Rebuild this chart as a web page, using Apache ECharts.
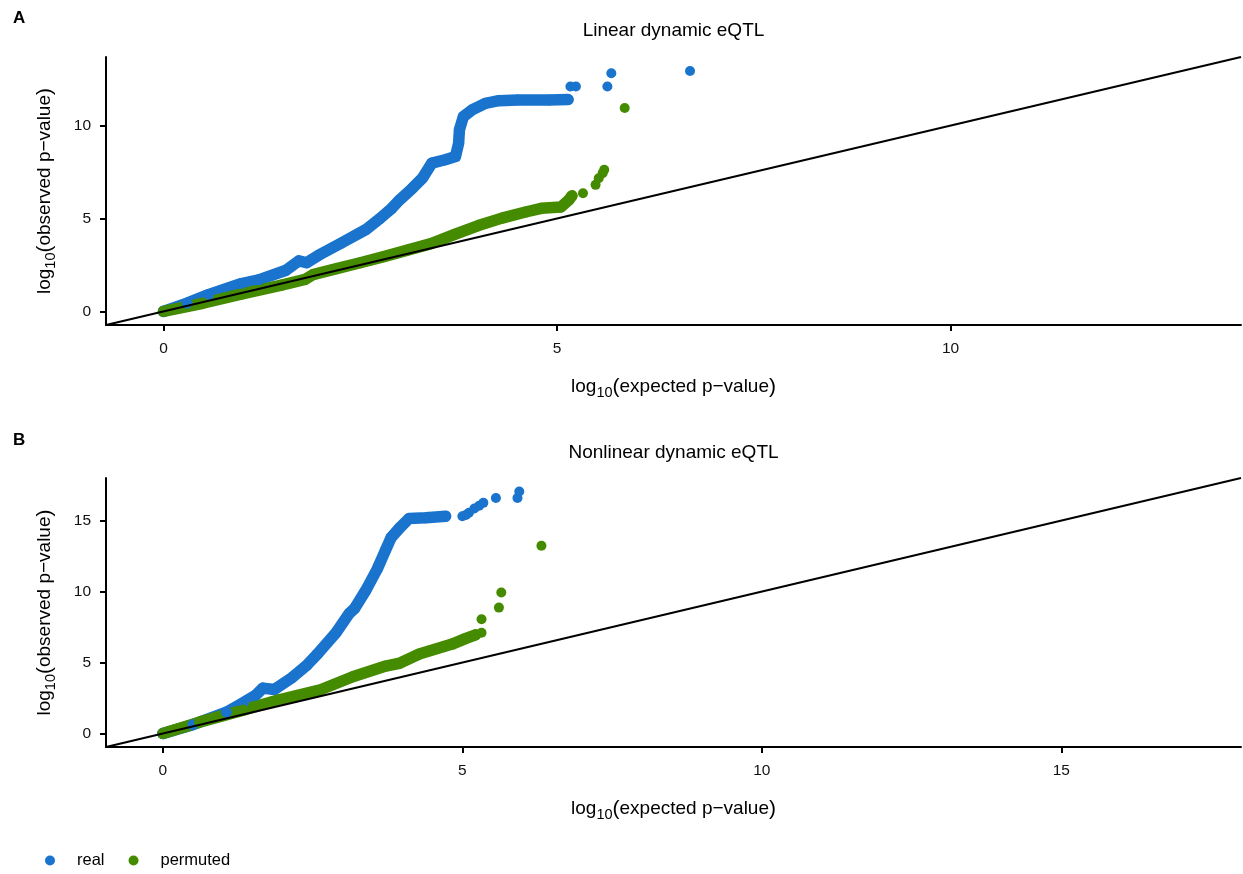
<!DOCTYPE html>
<html>
<head>
<meta charset="utf-8">
<script src="https://cdn.jsdelivr.net/npm/echarts@6/dist/echarts.min.js"></script>
<style>
  html, body { margin: 0; padding: 0; background: #fff; }
  #chart { width: 1243px; height: 874px; }
</style>
</head>
<body>
<div id="chart"></div>
<script>
// ---------------- data ----------------
// Panel A: Linear dynamic eQTL  ([expected, observed] in -log10 units)
const realA_dense = [[0,0],[0.3,0.45],[0.57,0.9],[0.99,1.5],[1.21,1.7],[1.55,2.2],[1.72,2.72],[1.82,2.62],[1.97,3.02],[2.26,3.68],[2.57,4.4],[2.75,5.0],[2.9,5.55],[3.0,6.0],[3.16,6.62],[3.29,7.17],[3.41,7.98],[3.58,8.16],[3.71,8.33],[3.75,9.05],[3.76,9.77],[3.81,10.48],[3.92,10.84],[4.09,11.2],[4.26,11.34],[4.5,11.38],[4.9,11.38],[5.14,11.4]];
const realA_tail = [[5.17,12.1],[5.24,12.1],[5.64,12.1],[5.69,12.82],[6.69,12.94]];
const permA_dense = [[0,0],[0.5,0.44],[1.0,0.94],[1.5,1.42],[1.8,1.72],[1.9,1.98],[2.2,2.3],[2.5,2.62],[2.8,2.95],[3.1,3.3],[3.4,3.65],[3.7,4.15],[4.0,4.62],[4.3,5.02],[4.6,5.35],[4.8,5.55],[5.05,5.62],[5.15,6.0],[5.19,6.22]];
const permA_tail = [[5.33,6.36],[5.49,6.81],[5.53,7.17],[5.58,7.44],[5.6,7.62],[5.86,10.95]];

// Panel B: Nonlinear dynamic eQTL
const realB_dense = [[0,0],[0.5,0.62],[1.06,1.5],[1.34,2.17],[1.55,2.7],[1.67,3.2],[1.86,3.1],[2.16,3.95],[2.4,4.8],[2.58,5.6],[2.89,7.1],[3.11,8.45],[3.2,8.8],[3.39,10.1],[3.58,11.6],[3.72,12.95],[3.81,13.8],[3.95,14.47],[4.11,15.15],[4.39,15.2],[4.72,15.31]];
const realB_tail = [[5.0,15.31],[5.06,15.4],[5.11,15.55],[5.2,15.85],[5.28,16.05],[5.35,16.25],[5.56,16.59],[5.92,16.59],[5.95,17.05]];
const permB_dense = [[0,0],[0.61,0.8],[1.34,1.65],[1.94,2.38],[2.61,3.05],[3.17,4.0],[3.72,4.75],[3.95,4.95],[4.28,5.6],[4.83,6.3],[5.06,6.7],[5.22,6.95]];
const permB_tail = [[5.32,7.1],[5.32,8.05],[5.61,8.87],[5.65,9.94],[6.32,13.23]];

// axis limits and tick labels
const limA = [-0.73, 13.69];
const limB = [-0.95, 18.0];
const ticksA_x = [0, 5, 10];
const ticksA_y = [0, 5, 10];
const ticksB_x = [0, 5, 10, 15];
const ticksB_y = [0, 5, 10, 15];

const titles = ['Linear dynamic eQTL', 'Nonlinear dynamic eQTL'];
const panelLabels = ['A', 'B'];
const seriesNames = ['real', 'permuted'];
const colors = ['#1A74CD', '#458B00'];

// ---------------- chart ----------------
const FONT = '"Liberation Sans", Arial, Helvetica, sans-serif';
const chart = echarts.init(document.getElementById('chart'), null, { renderer: 'canvas' });

const nameRich = {
  a: { fontSize: 19, fontFamily: FONT, color: '#000', lineHeight: 26, verticalAlign: 'middle' },
  s: { fontSize: 14.5, fontFamily: FONT, color: '#000', lineHeight: 14, verticalAlign: 'bottom' },
  p: { fontSize: 21, fontFamily: FONT, color: '#000', lineHeight: 26, verticalAlign: 'middle' }
};
const xName = '{a|log}{s|10}{p|(}{a|expected p\u2212value}{p|)}';
const yName = '{a|log}{s|10}{p|(}{a|observed p\u2212value}{p|)}';

const tickLabelStyle = { color: '#111', fontSize: 15.5, fontFamily: FONT };

function makeX(gi, lim, ticks) {
  return {
    type: 'value', gridIndex: gi, min: lim[0], max: lim[1],
    axisLine: { show: true, onZero: false, lineStyle: { color: '#000', width: 2 } },
    axisTick: { show: true, customValues: ticks, length: 6, lineStyle: { color: '#000', width: 2 } },
    axisLabel: Object.assign({ customValues: ticks, margin: 16,
      formatter: function (v) { return '{t|' + v + '}'; },
      rich: { t: tickLabelStyle } }, tickLabelStyle),
    splitLine: { show: false },
    name: xName, nameLocation: 'middle', nameGap: 49,
    nameTextStyle: { rich: nameRich }
  };
}
function makeY(gi, lim, ticks) {
  return {
    type: 'value', gridIndex: gi, min: lim[0], max: lim[1],
    axisLine: { show: true, onZero: false, lineStyle: { color: '#000', width: 2 } },
    axisTick: { show: true, customValues: ticks, length: 6, lineStyle: { color: '#000', width: 2 } },
    axisLabel: Object.assign({ customValues: ticks, margin: 15,
      formatter: function (v) { return '{t|' + v + '}'; },
      rich: { t: tickLabelStyle } }, tickLabelStyle),
    splitLine: { show: false },
    name: yName, nameLocation: 'middle', nameGap: 48, nameRotate: 90,
    nameTextStyle: { rich: nameRich }
  };
}

function denseSeries(name, data, color, gi) {
  return {
    name: name, type: 'line', xAxisIndex: gi, yAxisIndex: gi, data: data,
    symbol: 'circle', symbolSize: 11, showSymbol: true,
    itemStyle: { color: color },
    lineStyle: { color: color, width: 11.5, cap: 'round', join: 'round' },
    z: 2, silent: true, animation: false
  };
}
function tailSeries(name, data, color, gi) {
  return {
    name: name, type: 'scatter', xAxisIndex: gi, yAxisIndex: gi, data: data,
    symbol: 'circle', symbolSize: 10, itemStyle: { color: color, opacity: 1 },
    z: 2, silent: true, animation: false
  };
}
function diagSeries(lim, gi) {
  return {
    name: 'diag', type: 'line', xAxisIndex: gi, yAxisIndex: gi,
    data: [[lim[0], lim[0]], [lim[1], lim[1]]],
    symbol: 'none', lineStyle: { color: '#000', width: 2 },
    z: 5, silent: true, animation: false
  };
}

const option = {
  backgroundColor: '#fff',
  animation: false,
  textStyle: { fontFamily: FONT },
  grid: [
    { left: 106, right: 2, top: 57, height: 268, containLabel: false },
    { left: 106, right: 2, top: 478, height: 269, containLabel: false }
  ],
  xAxis: [makeX(0, limA, ticksA_x), makeX(1, limB, ticksB_x)],
  yAxis: [makeY(0, limA, ticksA_y), makeY(1, limB, ticksB_y)],
  legend: {
    data: seriesNames,
    left: 40, top: 847,
    icon: 'circle', itemWidth: 10, itemHeight: 10, itemGap: 24,
    textStyle: { fontSize: 16.5, fontFamily: FONT, color: '#000', padding: [0, 0, 0, 17] },
    selectedMode: false
  },
  graphic: [
    { type: 'text', x: 13, y: 18, style: { text: panelLabels[0], font: 'bold 17px ' + FONT, fill: '#000', textAlign: 'left', textVerticalAlign: 'middle' } },
    { type: 'text', x: 13, y: 440, style: { text: panelLabels[1], font: 'bold 17px ' + FONT, fill: '#000', textAlign: 'left', textVerticalAlign: 'middle' } },
    { type: 'text', x: 673.5, y: 31, style: { text: titles[0], font: '19px ' + FONT, fill: '#000', textAlign: 'center', textVerticalAlign: 'middle' } },
    { type: 'text', x: 673.5, y: 453, style: { text: titles[1], font: '19px ' + FONT, fill: '#000', textAlign: 'center', textVerticalAlign: 'middle' } }
  ],
  series: [
    denseSeries(seriesNames[0], realA_dense, colors[0], 0),
    tailSeries(seriesNames[0], realA_tail, colors[0], 0),
    denseSeries(seriesNames[1], permA_dense, colors[1], 0),
    tailSeries(seriesNames[1], permA_tail, colors[1], 0),
    diagSeries(limA, 0),
    denseSeries(seriesNames[0], realB_dense, colors[0], 1),
    tailSeries(seriesNames[0], realB_tail, colors[0], 1),
    denseSeries(seriesNames[1], permB_dense, colors[1], 1),
    tailSeries(seriesNames[1], permB_tail, colors[1], 1),
    diagSeries(limB, 1)
  ]
};
chart.setOption(option);
</script>
</body>
</html>
